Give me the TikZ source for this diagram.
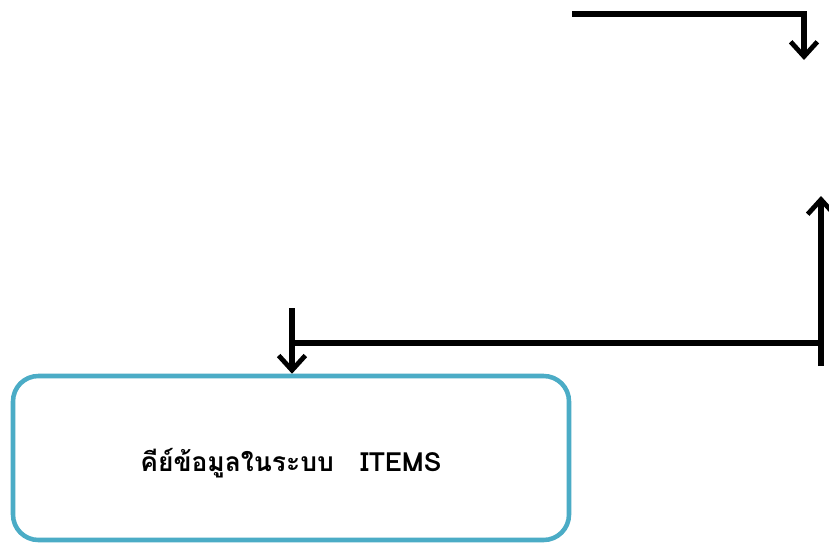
\documentclass[tikz,border=0pt]{standalone}
\usepackage{fontspec}
\newfontfamily\thaifont[Script=Thai]{Loma}
\usetikzlibrary{arrows.meta}
\definecolor{boxblue}{RGB}{75,172,198}
\tikzset{
  flowline/.style={line width=4pt},
  flowarrow/.style={flowline,-{Straight Barb[length=11pt,width=20pt,line width=3.6pt]}},
  keybox/.style={draw=boxblue,line width=3.4pt,rounded corners=19pt,
    minimum width=417pt,minimum height=123pt},
  keytext/.style={font=\thaifont\bfseries\fontsize{19.8}{23}\selectfont}
}
\begin{document}
\begin{tikzpicture}[x=0.75pt,y=-0.75pt]
  %% page frame
  \useasboundingbox[fill=white] (0,0) rectangle (829,544);

  %% the box at the bottom
  \node[keybox] (items) at (291,458) {};
  \node[keytext] (itemstext) at (291,463) {คีย์ข้อมูลในระบบ\ \ \ ITEMS};

  %% end points of the connectors
  \coordinate (topstart) at (572,14);
  \coordinate (topend)   at (804,60);
  \coordinate (rbottom)  at (821,366);
  \coordinate (rtop)     at (821,196);
  \coordinate (rjoin)    at (821,343);
  \coordinate (ljoin)    at (292,343);
  \coordinate (lstart)   at (292,308);

  %% connectors
  \draw[flowarrow] (topstart) -| (topend);
  \draw[flowarrow] (rbottom) -- (rtop);
  \draw[flowline] (rjoin) -- (ljoin);
  \draw[flowarrow] (lstart) -- (items.north -| lstart);
\end{tikzpicture}
\end{document}
